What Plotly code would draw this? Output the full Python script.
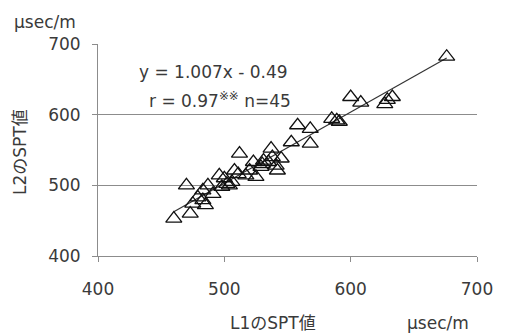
import plotly.graph_objects as go

# L1 SPT values (x) and L2 SPT values (y), µsec/m
l1_spt = [676, 600, 608, 627, 633, 629, 585, 589, 591, 558,
          568, 553, 568, 537, 512, 538, 523, 531, 535, 541,
          542, 529, 520, 508, 517, 525, 500, 496, 502, 498,
          506, 470, 487, 483, 491, 479, 483, 475, 485, 473,
          460, 545, 504, 530, 511]
l2_spt = [682, 625, 617, 615, 625, 621, 594, 592, 590, 585,
          580, 561, 559, 552, 545, 540, 533, 535, 533, 528,
          521, 526, 521, 521, 514, 512, 510, 514, 502, 498,
          505, 500, 500, 493, 488, 483, 479, 474, 472, 460,
          453, 538, 500, 530, 516]

slope = 1.007
intercept = -0.49
axis_ticks = [400, 500, 600, 700]

FONT = "DejaVu Sans, Noto Sans CJK JP"
TXT = "#3a3a3a"
GRID = "#8c8c8c"

fit_x = [min(l1_spt), max(l1_spt)]
fit_y = [slope * v + intercept for v in fit_x]

fig = go.Figure()
fig.add_trace(go.Scatter(
    x=fit_x, y=fit_y, mode="lines",
    line=dict(color="#333333", width=1.2),
    showlegend=False, hoverinfo="skip"))
fig.add_trace(go.Scatter(
    x=l1_spt, y=l2_spt, mode="markers",
    marker=dict(symbol="triangle-up-open", size=14,
                color="#111111", line=dict(width=1.3, color="#111111")),
    showlegend=False))

fig.update_layout(
    width=502, height=328,
    margin=dict(l=90, r=33, t=36, b=80),
    paper_bgcolor="white", plot_bgcolor="white",
    font=dict(family=FONT, color=TXT, size=16),
    xaxis=dict(range=[400, 700], tickvals=axis_ticks, showgrid=False,
               showline=True, linecolor=GRID, linewidth=1,
               ticks="outside", ticklen=5, tickcolor=GRID,
               ticklabelstandoff=13, zeroline=False,
               tickfont=dict(size=17, color=TXT, family=FONT)),
    yaxis=dict(range=[400, 700], tickvals=axis_ticks, showgrid=True,
               gridcolor=GRID, gridwidth=1,
               showline=True, linecolor=GRID, linewidth=1,
               ticks="outside", ticklen=5, tickcolor=GRID,
               ticklabelstandoff=8, zeroline=False,
               tickfont=dict(size=17, color=TXT, family=FONT)),
    annotations=[
        dict(text="μsec/m", xref="paper", yref="paper", x=-0.227, y=1.104,
             xanchor="left", yanchor="middle", showarrow=False,
             font=dict(size=17, color=TXT, family=FONT)),
        dict(text="L2のSPT値", xref="paper", yref="paper", x=-0.206, y=0.49,
             textangle=-90, xanchor="center", yanchor="middle", showarrow=False,
             font=dict(size=17, color=TXT, family=FONT)),
        dict(text="L1のSPT値", xref="paper", yref="paper", x=0.462, y=-0.316,
             xanchor="center", yanchor="middle", showarrow=False,
             font=dict(size=17, color=TXT, family=FONT)),
        dict(text="μsec/m", xref="paper", yref="paper", x=0.897, y=-0.316,
             xanchor="center", yanchor="middle", showarrow=False,
             font=dict(size=17, color=TXT, family=FONT)),
        dict(text=f"y = {slope}x - {abs(intercept)}", xref="paper", yref="paper",
             x=0.305, y=0.868, xanchor="center", yanchor="middle", showarrow=False,
             font=dict(size=17, color=TXT, family=FONT)),
        dict(text="r = 0.97<sup>※※</sup> n=45", xref="paper", yref="paper",
             x=0.322, y=0.736, xanchor="center", yanchor="middle", showarrow=False,
             font=dict(size=17, color=TXT, family=FONT)),
    ],
)

fig.write_html("out.html")
